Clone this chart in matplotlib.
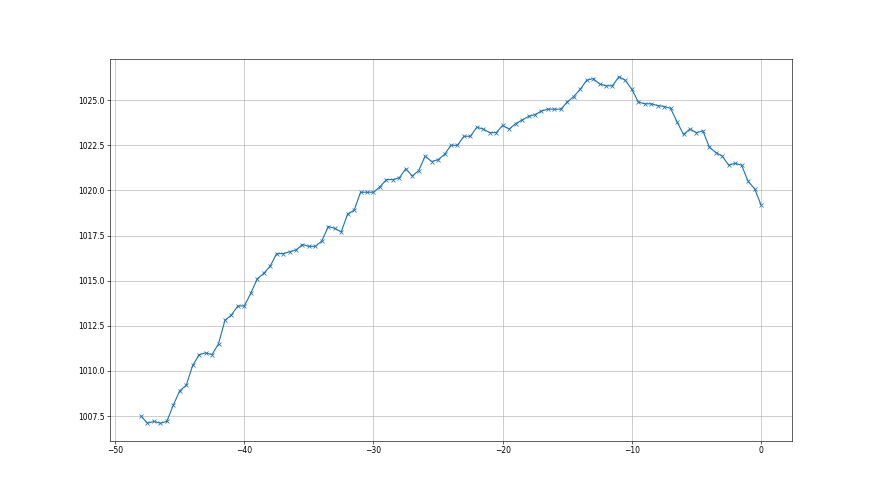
import numpy as np
import matplotlib
matplotlib.use("Agg")
import matplotlib.pyplot as plt

hours = [-48 + 0.5 * i for i in range(97)]
pressure = [
    1007.5, 1007.1, 1007.2, 1007.1, 1007.2, 1008.1, 1008.9, 1009.2, 1010.3, 1010.9,
    1011.0, 1010.9, 1011.5, 1012.8, 1013.1, 1013.6, 1013.6, 1014.3, 1015.1, 1015.4,
    1015.8, 1016.5, 1016.5, 1016.6, 1016.7, 1017.0, 1016.9, 1016.9, 1017.2, 1018.0,
    1017.9, 1017.7, 1018.7, 1018.9, 1019.9, 1019.9, 1019.9, 1020.2, 1020.6, 1020.6,
    1020.7, 1021.2, 1020.8, 1021.1, 1021.9, 1021.6, 1021.7, 1022.0, 1022.5, 1022.5,
    1023.0, 1023.0, 1023.5, 1023.4, 1023.2, 1023.2, 1023.6, 1023.4, 1023.7, 1023.9,
    1024.1, 1024.2, 1024.4, 1024.5, 1024.5, 1024.5, 1024.9, 1025.2, 1025.6, 1026.1,
    1026.2, 1025.9, 1025.8, 1025.8, 1026.3, 1026.1, 1025.6, 1024.9, 1024.8, 1024.8,
    1024.7, 1024.65, 1024.55, 1023.8, 1023.1, 1023.4, 1023.2, 1023.3, 1022.4, 1022.1,
    1021.9, 1021.4, 1021.5, 1021.4, 1020.5, 1020.1, 1019.2,
]

fig, ax = plt.subplots(figsize=(16, 9), dpi=55)
ax.plot(hours, pressure, marker="x")
ax.grid(True)
fig.savefig("out.png", dpi=55)
